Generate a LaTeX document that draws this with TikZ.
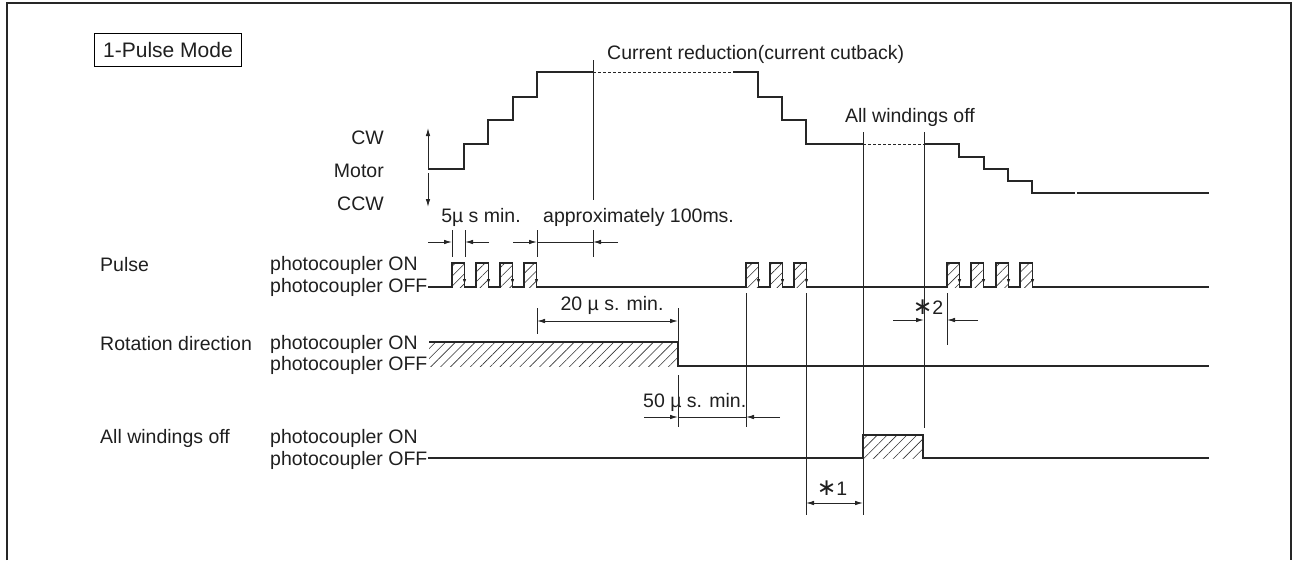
\documentclass[tikz,border=0pt]{standalone}
\usepackage{fontspec}
\setmainfont{Liberation Sans}
\newfontfamily\djv{DejaVu Sans}
\usetikzlibrary{arrows.meta,patterns.meta}
\newcommand{\mystar}{{\djv\scalebox{1.2}{∗}}}
\begin{document}
\begin{tikzpicture}[x=1pt,y=-1pt,
  trace/.style={line width=1.3pt,color=black!85},
  thinl/.style={line width=0.9pt,color=black!85},
  dimarrow/.style={line width=0.9pt,color=black!85,-{Latex[length=8pt,width=4.5pt]}},
  dimboth/.style={line width=0.9pt,color=black!85,{Latex[length=8pt,width=4.5pt]}-{Latex[length=8pt,width=4.5pt]}},
  tinyarrow/.style={line width=0.6pt,color=black!85,-{Latex[length=5pt,width=3.5pt]}},
  lbl/.style={font=\fontsize{19.5}{23}\selectfont, inner sep=0pt, text=black!88},
  hatch/.style={pattern={Lines[angle=45,distance=7pt,line width=0.6pt]},pattern color=black!80}]
\useasboundingbox (0,0) rectangle (1293,560);
% outer frame
\draw[line width=1.2pt,color=black!85] (7,560) -- (7,3) -- (1291,3) -- (1291,560);

% title
\node[lbl,font=\fontsize{21}{25}\selectfont,draw,line width=0.9pt,minimum width=147pt,minimum height=33pt] (title) at (168,50) {1-Pulse Mode};

% labels
\node[lbl,anchor=east] (cw) at (384,138) {CW};
\node[lbl,anchor=east] (motor) at (384,171) {Motor};
\node[lbl,anchor=east] (ccw) at (384,204) {CCW};
\node[lbl,anchor=west] (cur) at (607,54) {Current reduction(current cutback)};
\node[lbl] (awo) at (910,117) {All windings off};
\node[lbl] (d5lbl) at (481,217) {5µ s min.};
\node[lbl,anchor=west] (d100lbl) at (543,217) {approximately 100ms.};
\node[lbl,anchor=west] (pulse) at (100,265) {Pulse};
\node[lbl,anchor=west] (pon) at (270,265) {photocoupler ON};
\node[lbl,anchor=west] (poff) at (270,287) {photocoupler OFF};
\node[lbl] (d20lbl) at (612,305) {20 µ s. min.};
\node[lbl] (s2lbl) at (928,307) {\mystar2};
\node[lbl,anchor=west] (rot) at (100,344) {Rotation direction};
\node[lbl,anchor=west] (ron) at (270,344) {photocoupler ON};
\node[lbl,anchor=west] (roff) at (270,365) {photocoupler OFF};
\node[lbl,anchor=west] (d50lbl) at (643,402) {50 µ s. min.};
\node[lbl,anchor=west] (aw) at (100,438) {All windings off};
\node[lbl,anchor=west] (aon) at (270,438) {photocoupler ON};
\node[lbl,anchor=west] (aoff) at (270,460) {photocoupler OFF};
\node[lbl] (s1lbl) at (832,488) {\mystar1};

% motor arrows
\coordinate (mup) at (428,128);
\coordinate (mmid) at (428,169);
\coordinate (mlow) at (428,173);
\coordinate (mdown) at (428,207);
\draw[dimarrow] (mmid) -- (mup);
\draw[dimarrow] (mlow) -- (mdown);

% motor trace
\draw[trace] (mmid) -- (464,169) -- (464,144) -- (488,144) -- (488,120) -- (513,120) -- (513,97) -- (537,97) -- (537,72) -- (593,72);
\draw[trace,dash pattern=on 3pt off 2pt,line width=1pt] (593,72) -- (733,72);
\draw[trace] (733,72) -- (758,72) -- (758,97) -- (782,97) -- (782,120) -- (806,120) -- (806,144) -- (863,144);
\draw[trace,dash pattern=on 3pt off 2pt,line width=1pt] (863,144) -- (924,144);
\draw[trace] (924,144) -- (959,144) -- (959,157) -- (984,157) -- (984,169) -- (1008,169) -- (1008,181) -- (1032,181) -- (1032,193) -- (1075,193);
\draw[trace] (1077,193) -- (1209,193);

% pulse row
\foreach \r in {452,476,500,524,746,770,794,947,971,996,1020}{
  \fill[hatch] (\r,263) rectangle (\r+12.5,287);
  \draw[tinyarrow] (\r+12.5,271) -- (\r+12.5,284);
}
\draw[trace] (428,287)
  foreach \r in {452,476,500,524,746,770,794,947,971,996,1020}{ -- (\r,287) -- (\r,263) -- (\r+12.5,263) -- (\r+12.5,287) } -- (1209,287);

% rotation direction row
\fill[hatch] (429,342) rectangle (678,366);
\draw[trace] (429,342) -- (678,342) -- (678,366) -- (1209,366);

% all windings off row
\fill[hatch] (863,435) rectangle (923,458);
\draw[trace] (428,458) -- (863,458) -- (863,435) -- (923,435) -- (923,458) -- (1209,458);

% long vertical reference lines
\draw[thinl] (593,60) -- (593,200);
\draw[thinl] (593,230) -- (593,257);
\draw[thinl] (863,132) -- (863,515);
\draw[thinl] (924,132) -- (924,428);

% 5 us dimension
\coordinate (d5a) at (452,242);
\coordinate (d5b) at (465,242);
\draw[thinl] (452,230) -- (452,257);
\draw[thinl] (465,230) -- (465,257);
\draw[dimarrow] (428,242) -- (d5a);
\draw[dimarrow] (489,242) -- (d5b);

% 100 ms dimension
\coordinate (d100a) at (537,242);
\coordinate (d100b) at (593,242);
\draw[thinl] (537,230) -- (537,257);
\draw[dimarrow] (513,242) -- (d100a);
\draw[thinl] (d100a) -- (d100b);
\draw[dimarrow] (618,242) -- (d100b);

% 20 us dimension
\coordinate (d20a) at (537,321);
\coordinate (d20b) at (678,321);
\draw[thinl] (537,308) -- (537,334);
\draw[thinl] (678,308) -- (678,342);
\draw[dimboth] (d20a) -- (d20b);

% 50 us dimension
\coordinate (d50a) at (678,417);
\coordinate (d50b) at (746,417);
\draw[thinl] (678,375) -- (678,427);
\draw[thinl] (746,293) -- (746,427);
\draw[dimarrow] (644,417) -- (d50a);
\draw[thinl] (d50a) -- (d50b);
\draw[dimarrow] (780,417) -- (d50b);

% *2 dimension
\coordinate (s2a) at (924,320);
\coordinate (s2b) at (947,320);
\draw[thinl] (947,293) -- (947,345);
\draw[dimarrow] (893,320) -- (s2a);
\draw[dimarrow] (978,320) -- (s2b);

% *1 dimension
\coordinate (s1a) at (806,503);
\coordinate (s1b) at (863,503);
\draw[thinl] (806,293) -- (806,515);
\draw[dimboth] (s1a) -- (s1b);
\end{tikzpicture}
\end{document}
